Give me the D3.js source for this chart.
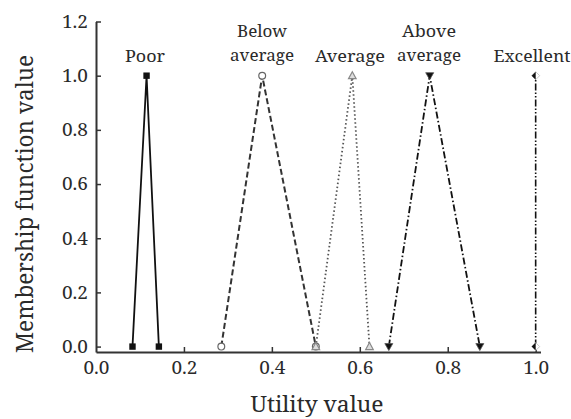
<!DOCTYPE html>
<html><head><meta charset="utf-8">
<script src="https://cdn.jsdelivr.net/npm/d3@7"></script>
<style>body{margin:0;background:#fff}svg{display:block}</style>
</head><body><svg id="c" width="571" height="419"></svg>
<script>
const FONT = '"Noto Serif","DejaVu Serif",serif';
const categories = ["Poor","Below average","Average","Above average","Excellent"];
const poorX = [0.083, 0.115, 0.143], poorY = [0, 1, 0];
const belowX = [0.285, 0.378, 0.5], belowY = [0, 1, 0];
const avgX = [0.5, 0.583, 0.622], avgY = [0, 1, 0];
const aboveX = [0.666, 0.759, 0.873], aboveY = [0, 1, 0];
const excX = [1.0, 1.0], excY = [0, 1];
const xTicks = [0, 0.2, 0.4, 0.6, 0.8, 1.0];
const yTicks = [0, 0.2, 0.4, 0.6, 0.8, 1.0, 1.2];

const svg = d3.select("#c");
const x = d3.scaleLinear().domain([0, 1.011]).range([96, 540.5]);
const y = d3.scaleLinear().domain([-0.02, 1.2]).range([352, 21.5]);

const xa = svg.append("g").attr("transform","translate(0,352)")
  .call(d3.axisBottom(x).tickValues(xTicks).tickSize(-5).tickSizeOuter(0).tickPadding(9).tickFormat(d3.format(".1f")));
const ya = svg.append("g").attr("transform","translate(96,0)")
  .call(d3.axisLeft(y).tickValues(yTicks).tickSize(-5).tickSizeOuter(0).tickPadding(8).tickFormat(d3.format(".1f")));
[xa, ya].forEach(g => {
  g.select(".domain").attr("stroke","#333").attr("stroke-width",2);
  g.selectAll(".tick line").attr("stroke","#333").attr("stroke-width",1.5);
  g.selectAll(".tick text").attr("font-size",18.5).attr("fill","#2a2a2a")
    .attr("font-family",FONT)
    .attr("textLength",26).attr("lengthAdjust","spacingAndGlyphs");
});
xa.select(".tick").select("line").remove();

const series = [
  {xs: poorX, ys: poorY, color:"#111", dash:null, w:1.8, sym:"square"},
  {xs: belowX, ys: belowY, color:"#333", dash:"6,3", w:2, sym:"circle"},
  {xs: avgX, ys: avgY, color:"#555", dash:"1.5,2.5", w:1.8, sym:"tri"},
  {xs: aboveX, ys: aboveY, color:"#111", dash:"7,2.5,1.5,2.5", w:1.8, sym:"tridown"},
  {xs: excX, ys: excY, color:"#111", dash:"7,2,1.5,2,1.5,2", w:1.6, sym:"diamond"}
];
const line = d3.line().x(d => x(d[0])).y(d => y(d[1]));
series.forEach(s => {
  const pts = s.xs.map((v,i) => [v, s.ys[i]]);
  svg.append("path").attr("d", line(pts)).attr("fill","none")
    .attr("stroke", s.color).attr("stroke-width", s.w)
    .attr("stroke-dasharray", s.dash);
  pts.forEach(p => {
    const cx = x(p[0]), cy = y(p[1]);
    const g = svg.append("g").attr("transform", `translate(${cx},${cy})`);
    if (s.sym === "square") g.append("rect").attr("x",-3.2).attr("y",-3.2).attr("width",6.4).attr("height",6.4).attr("fill","#111");
    if (s.sym === "circle") g.append("circle").attr("r",3.4).attr("fill","#fff").attr("stroke","#666").attr("stroke-width",1.2);
    if (s.sym === "tri") g.append("path").attr("d","M0,-4L3.8,3L-3.8,3Z").attr("fill","#ddd").attr("stroke","#888").attr("stroke-width",1.2);
    if (s.sym === "tridown") g.append("path").attr("d","M-4,-3L4,-3L0,4Z").attr("fill","#111").attr("stroke","#555").attr("stroke-width",0.8);
    if (s.sym === "diamond") {
      g.append("path").attr("d","M0,-4L4,0L0,4L-4,0Z").attr("fill","#fff").attr("stroke","#bbb").attr("stroke-width",0.8);
      g.append("path").attr("d","M0,-4L0,4L-4,0Z").attr("fill","#111");
    }
  });
});

// category labels
const labels = [
  {lines:["Poor"], cx:145, widths:[40]},
  {lines:["Below","average"], cx:262, widths:[50,64]},
  {lines:["Average"], cx:350, widths:[70]},
  {lines:["Above","average"], cx:429, widths:[54,64]},
  {lines:["Excellent"], cx:532, widths:[77]}
];
labels.forEach((l,i) => {
  const n = l.lines.length;
  l.lines.forEach((t,j) => {
    const base = n === 1 ? 61.5 : (j === 0 ? 36.5 : 60.5);
    svg.append("text").attr("x", l.cx).attr("y", base).attr("text-anchor","middle")
      .attr("font-family",FONT).attr("fill","#2a2a2a")
      .attr("font-size",16).attr("textLength", l.widths[j]).attr("lengthAdjust","spacingAndGlyphs")
      .text(t);
  });
});

svg.append("text").attr("x", 317).attr("y", 412).attr("text-anchor","middle")
  .attr("font-family",FONT).attr("fill","#2a2a2a")
  .attr("font-size",22).attr("textLength",133).attr("lengthAdjust","spacingAndGlyphs").text("Utility value");
svg.append("text").attr("transform","translate(33,204) rotate(-90)").attr("text-anchor","middle")
  .attr("font-family",FONT).attr("fill","#2a2a2a")
  .attr("font-size",23).attr("textLength",298).attr("lengthAdjust","spacingAndGlyphs").text("Membership function value");
</script></body></html>
